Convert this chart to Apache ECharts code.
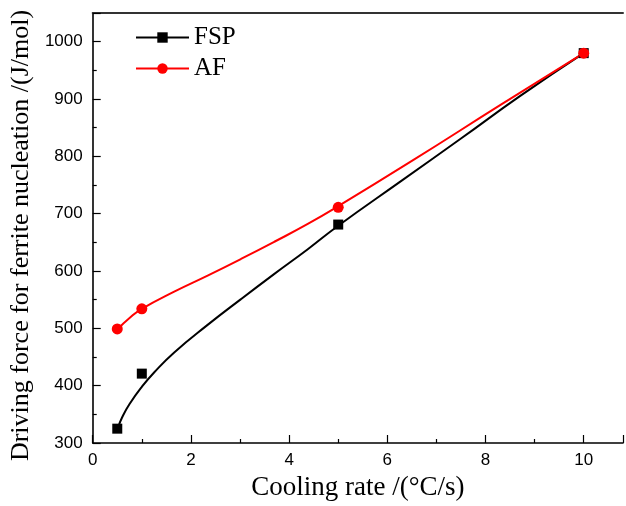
<!DOCTYPE html>
<html>
<head>
<meta charset="utf-8">
<script src="https://cdn.jsdelivr.net/npm/echarts@6/dist/echarts.min.js"></script>
<style>
  html, body { margin: 0; padding: 0; background: #fff; overflow: hidden; }
  #chart { width: 626px; height: 506px; }
</style>
</head>
<body>
<div id="chart"></div>
<script>
// Measured driving force at each cooling rate
const coolingRates = [0.5, 1, 5, 10];
const fspValues = [325, 421, 681, 980];
const afValues = [499, 534, 711, 980];

// Fitted trend curves (cooling rate, driving force)
const fspFit = [[0.52, 328], [0.6, 345], [0.75, 368], [1.0, 398], [1.25, 423], [1.66, 458],
  [2.34, 506], [3.02, 551], [3.7, 595], [4.38, 638], [5.0, 679], [6.3, 758], [7.5, 831],
  [8.7, 905], [10, 980]];
const afFit = [[0.5, 498], [0.75, 518], [1.0, 534], [1.66, 564], [2.34, 592], [3.02, 621],
  [3.7, 651], [4.38, 682], [5.0, 713], [6.5, 792], [8.33, 891], [10, 980]];

// Axis tick settings
const xTicks = { min: 0, max: 10.8, interval: 2 };
const yTicks = { min: 300, max: 1050, interval: 100 };

const pairs = (xs, ys) => xs.map((x, i) => [x, ys[i]]);

const serif = '"Liberation Serif", "Times New Roman", serif';
const sans = '"Liberation Sans", Arial, sans-serif';

const chart = echarts.init(document.getElementById('chart'), null, { renderer: 'canvas' });

const axisLine = { show: true, lineStyle: { color: '#000', width: 1.6 } };

chart.setOption({
  animation: false,
  backgroundColor: '#fff',
  grid: { left: 92, top: 13, right: 0, bottom: 56, containLabel: false },
  legend: {
    orient: 'vertical',
    left: 130,
    top: 20,
    itemWidth: 53,
    itemHeight: 13,
    itemGap: 6,
    textStyle: { fontFamily: serif, fontSize: 25, color: '#000' },
    data: [
      { name: 'FSP', lineStyle: { width: 2, opacity: 1, color: '#000' } },
      { name: 'AF', lineStyle: { width: 2, opacity: 1, color: '#f00' } }
    ]
  },
  xAxis: [{
    type: 'value',
    min: xTicks.min, max: xTicks.max, interval: xTicks.interval,
    name: 'Cooling rate /(°C/s)',
    nameLocation: 'middle',
    nameGap: 31,
    nameTextStyle: { fontFamily: serif, fontSize: 27, color: '#000' },
    axisLine: axisLine,
    axisTick: { inside: true, length: 8, lineStyle: { color: '#000', width: 1.2 } },
    minorTick: { show: true, splitNumber: 2, length: 4, lineStyle: { color: '#000', width: 1.2 } },
    axisLabel: {
      margin: 9, fontFamily: sans, fontSize: 17, color: '#000',
      formatter: v => (v > 10 ? '' : String(v))
    },
    splitLine: { show: false }
  }, {
    type: 'value', position: 'top',
    min: xTicks.min, max: xTicks.max,
    axisLine: { show: true, lineStyle: { color: '#333', width: 2 } },
    axisTick: { show: false }, axisLabel: { show: false }, splitLine: { show: false }
  }],
  yAxis: [{
    type: 'value',
    min: yTicks.min, max: yTicks.max, interval: yTicks.interval,
    name: 'Driving force for ferrite nucleation /(J/mol)',
    nameLocation: 'middle',
    nameGap: 55,
    nameTextStyle: { fontFamily: serif, fontSize: 26, color: '#000', padding: [0, 15, 0, 0] },
    axisLine: axisLine,
    axisTick: { inside: true, length: 8, lineStyle: { color: '#000', width: 1.2 } },
    minorTick: { show: true, splitNumber: 2, length: 4, lineStyle: { color: '#000', width: 1.2 } },
    axisLabel: {
      margin: 10, fontFamily: sans, fontSize: 17, color: '#000',
      formatter: v => (v > 1000 ? '' : String(v))
    },
    splitLine: { show: false }
  }],
  series: [
    {
      name: 'FSP fit', type: 'line', data: fspFit, smooth: 0.5,
      showSymbol: false, silent: true,
      lineStyle: { color: '#000', width: 2 }
    },
    {
      name: 'AF fit', type: 'line', data: afFit, smooth: 0.5,
      showSymbol: false, silent: true,
      lineStyle: { color: '#f00', width: 2 }
    },
    {
      name: 'FSP', type: 'line', data: pairs(coolingRates, fspValues),
      symbol: 'rect', symbolSize: 10,
      itemStyle: { color: '#000' },
      lineStyle: { width: 0, opacity: 0, color: '#000' },
      z: 5
    },
    {
      name: 'AF', type: 'line', data: pairs(coolingRates, afValues),
      symbol: 'circle', symbolSize: 11,
      itemStyle: { color: '#f00' },
      lineStyle: { width: 0, opacity: 0, color: '#f00' },
      z: 6
    }
  ]
});
</script>
</body>
</html>
